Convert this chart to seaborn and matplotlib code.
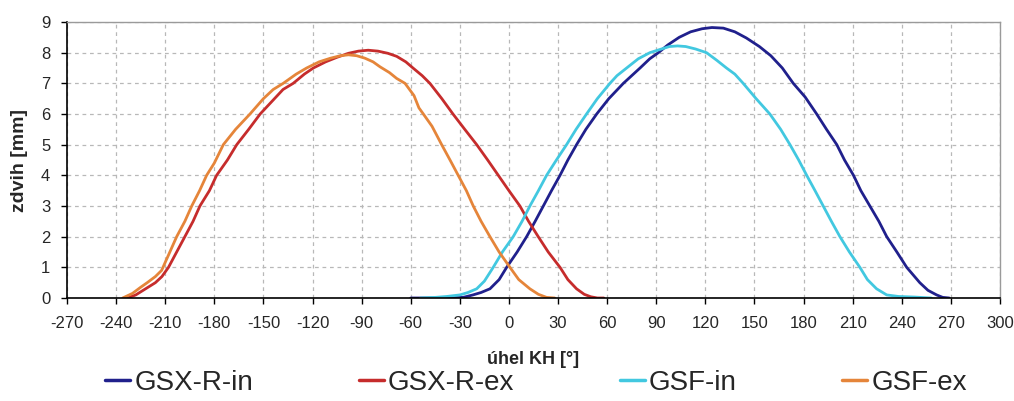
import numpy as np
import pandas as pd
import seaborn as sns
import matplotlib
matplotlib.use("Agg")
import matplotlib.pyplot as plt

# ---- data ----
series_names = ["GSX-R-in", "GSX-R-ex", "GSF-in", "GSF-ex"]
series_colors = ["#20208C", "#C62C2C", "#42C8E0", "#E5853A"]

gsxr_in_x = [-60, -40, -28, -22, -17, -11.6, -6, -1.4, 5, 10.8, 16, 21, 26, 31.2, 36, 41.3, 47, 53.6,
             61, 69.9, 75, 80.1, 86, 91.3, 97, 104, 111, 118, 124, 131, 138, 145, 153, 160, 167,
             173.7, 181, 188, 194, 200.3, 205, 210.5, 215, 220.5, 226, 230.8, 237, 243, 247, 251,
             256, 261.3, 265, 269]
gsxr_in_y = [0, 0, 0.02, 0.1, 0.18, 0.3, 0.6, 1.0, 1.5, 2.0, 2.5, 3.0, 3.5, 4.0, 4.5, 5.0, 5.5, 6.0,
             6.5, 7.0, 7.25, 7.5, 7.8, 8.0, 8.25, 8.5, 8.68, 8.78, 8.82, 8.8, 8.68, 8.48, 8.2, 7.9, 7.5,
             7.0, 6.55, 6.0, 5.5, 5.0, 4.5, 4.0, 3.5, 3.0, 2.5, 2.0, 1.5, 1.0, 0.75, 0.5,
             0.25, 0.1, 0.02, 0]

gsxr_ex_x = [-233, -228, -222, -216, -212, -208, -203, -198, -193, -188.8, -183, -178.6, -172, -166.3,
             -159, -152, -145, -138, -131.8, -125, -119.5, -112, -105, -98, -92, -86, -80, -74, -68.6,
             -63, -58.4, -53, -48.3, -41, -34.2, -27, -19.7, -13, -6.5, 0, 6.7, 12, 17.9, 24, 31.2,
             36, 41.3, 46, 50, 54, 58]
gsxr_ex_y = [0, 0.1, 0.3, 0.5, 0.7, 1.0, 1.5, 2.0, 2.5, 3.0, 3.5, 4.0, 4.5, 5.0,
             5.5, 6.0, 6.4, 6.8, 7.0, 7.3, 7.5, 7.7, 7.85, 7.98, 8.05, 8.08, 8.05, 7.98, 7.88,
             7.7, 7.49, 7.25, 7.0, 6.5, 6.0, 5.5, 5.0, 4.5, 4.0, 3.5, 3.0, 2.5, 2.0, 1.5, 1.0,
             0.6, 0.3, 0.12, 0.04, 0.0, 0.0]

gsf_in_x = [-54, -45, -38, -30, -25, -19.7, -15, -9.6, -4, 2.6, 8, 12.8, 18, 23, 29, 35.2, 41, 47.4,
            54, 61.7, 66, 71.9, 79, 86.1, 92, 98, 103, 108, 114, 120.7, 127, 132.9, 138, 143.1, 151,
            159.4, 166, 171.7, 177, 181.9, 187, 192, 197, 202.2, 208, 214.4, 219, 224.6, 230.8, 238,
            248, 258]
gsf_in_y = [0, 0.02, 0.05, 0.1, 0.18, 0.3, 0.55, 1.0, 1.5, 2.0, 2.5, 3.0, 3.5, 4.0, 4.5, 5.0, 5.5, 6.0,
            6.5, 7.0, 7.25, 7.5, 7.8, 8.0, 8.1, 8.2, 8.22, 8.2, 8.12, 8.0, 7.75, 7.5, 7.3, 7.0, 6.5,
            6.0, 5.5, 5.0, 4.5, 4.0, 3.5, 3.0, 2.5, 2.0, 1.5, 1.0, 0.6, 0.3, 0.1, 0.05,
            0.03, 0]

gsf_ex_x = [-236, -230, -225, -221, -216, -212.2, -208, -203, -198, -193.8, -189, -184.7, -180, -174.5,
            -167, -158.2, -150, -144, -137.9, -130, -123.6, -116, -109, -103, -98, -93, -88, -83,
            -78.8, -73, -68.6, -63.5, -58, -55, -52.3, -47, -41.1, -36, -31, -26, -21.8, -17, -11.6,
            -6, 0.6, 6, 12.8, 18, 23, 28]
gsf_ex_y = [0, 0.15, 0.35, 0.5, 0.7, 0.9, 1.4, 2.0, 2.5, 3.0, 3.5, 4.0, 4.4, 5.0,
            5.5, 6.0, 6.5, 6.8, 7.0, 7.3, 7.5, 7.7, 7.82, 7.9, 7.93, 7.9, 7.82, 7.7,
            7.54, 7.35, 7.16, 7.0, 6.6, 6.2, 6.0, 5.6, 5.0, 4.5, 4.0, 3.5, 3.0, 2.5, 2.0,
            1.5, 1.0, 0.6, 0.3, 0.12, 0.02, 0]

x_ticks = list(range(-270, 301, 30))
y_ticks = list(range(0, 10))
x_label = "úhel KH [°]"
y_label = "zdvih [mm]"

# ---- build long table ----
frames = []
for name, xs, ys in zip(series_names,
                        [gsxr_in_x, gsxr_ex_x, gsf_in_x, gsf_ex_x],
                        [gsxr_in_y, gsxr_ex_y, gsf_in_y, gsf_ex_y]):
    frames.append(pd.DataFrame({"angle": xs, "lift": ys, "series": name}))
df = pd.concat(frames, ignore_index=True)

sns.set_style("white")
plt.rcParams["font.family"] = ["Liberation Sans", "DejaVu Sans"]

fig = plt.figure(figsize=(10.14, 4.01), dpi=100)
ax = fig.add_axes([67 / 1014, 103 / 401, 933 / 1014, 276 / 401])

sns.lineplot(data=df, x="angle", y="lift", hue="series", hue_order=series_names,
             palette=dict(zip(series_names, series_colors)), sort=False, estimator=None,
             linewidth=2.0, ax=ax, legend=True)

ax.set_xlim(-270, 300)
ax.set_ylim(0, 9)
ax.set_xticks(x_ticks)
ax.set_yticks(y_ticks)
ax.set_xticklabels([str(t) for t in x_ticks], fontsize=12)
ax.set_yticklabels([str(t) for t in y_ticks], fontsize=12)
ax.tick_params(axis="both", direction="out", length=4, width=1, color="black",
               bottom=True, left=True)
ax.tick_params(axis="x", pad=9)
ax.tick_params(axis="y", pad=8)

ax.grid(True, which="major", color="#b8b8b8", linestyle=(0, (3, 3)), linewidth=0.9)
ax.set_axisbelow(True)

for side in ["left", "bottom"]:
    ax.spines[side].set_color("black")
    ax.spines[side].set_linewidth(1.2)
for side in ["top", "right"]:
    ax.spines[side].set_color("#9a9a9a")
    ax.spines[side].set_linewidth(1.0)

ax.set_xlabel(x_label, fontsize=13, fontweight="bold", labelpad=14)
ax.set_ylabel(y_label, fontsize=14, fontweight="bold", labelpad=9)

leg = ax.get_legend()
if leg is not None:
    leg.remove()
handles, labels = ax.get_legend_handles_labels()
lg = fig.legend(handles, labels, loc="center", bbox_to_anchor=(536 / 1014, 18 / 401),
                ncol=4, frameon=False, fontsize=20, handlelength=0.9, handletextpad=0.15,
                columnspacing=3.8, borderaxespad=0)
for lh in lg.get_lines():
    lh.set_linewidth(2.5)

fig.savefig("out.png", dpi=100, facecolor="white")
